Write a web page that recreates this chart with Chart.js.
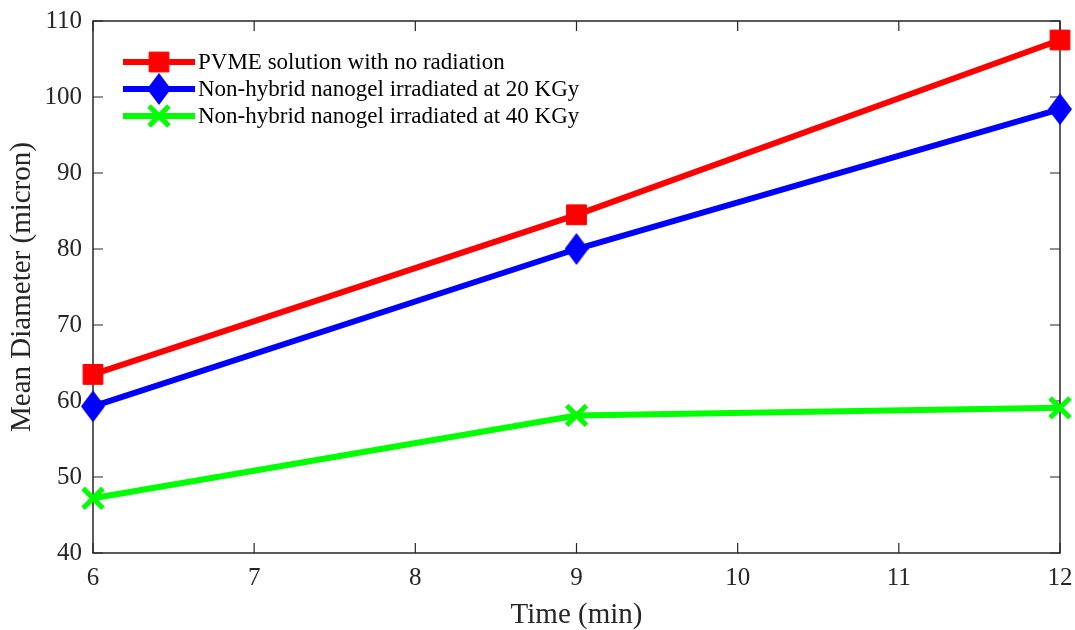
<!DOCTYPE html>
<html>
<head>
<meta charset="utf-8">
<script src="https://cdn.jsdelivr.net/npm/chart.js@4.4.1/dist/chart.umd.min.js"></script>
<style>
  html, body { margin: 0; padding: 0; background: #fff; }
  #plot { display: block; }
</style>
</head>
<body>
<canvas id="plot" width="1075" height="630"></canvas>
<script>
const times = [6, 9, 12];
const pvme = [63.5, 84.5, 107.5];
const gel20 = [59.3, 80.0, 98.4];
const gel40 = [47.2, 58.1, 59.1];
const seriesNames = [
  'PVME solution with no radiation',
  'Non-hybrid nanogel irradiated at 20 KGy',
  'Non-hybrid nanogel irradiated at 40 KGy'
];
const xTicks = [6, 7, 8, 9, 10, 11, 12];
const yTicks = [40, 50, 60, 70, 80, 90, 100, 110];

const AXIS = '#262626';
const FONT = '"Liberation Serif", "Times New Roman", serif';

// tall diamond marker, like the MATLAB 'd' symbol
function diamond(color, w, h) {
  const c = document.createElement('canvas');
  c.width = w; c.height = h;
  const g = c.getContext('2d');
  g.fillStyle = color;
  g.beginPath();
  g.moveTo(w / 2, 0);
  g.lineTo(w, h / 2);
  g.lineTo(w / 2, h);
  g.lineTo(0, h / 2);
  g.closePath();
  g.fill();
  return c;
}

function points(ys) {
  return times.map((t, i) => ({ x: t, y: ys[i] }));
}

const datasets = [
  {
    label: seriesNames[0], data: points(pvme),
    borderColor: '#ff0000', backgroundColor: '#ff0000',
    pointStyle: 'rect', pointRadius: 14, pointBorderWidth: 1
  },
  {
    label: seriesNames[1], data: points(gel20),
    borderColor: '#0000ff', backgroundColor: '#0000ff',
    pointStyle: diamond('#0000ff', 24, 32), pointRadius: 14, pointBorderWidth: 0
  },
  {
    label: seriesNames[2], data: points(gel40),
    borderColor: '#00ff00', backgroundColor: '#00ff00',
    pointStyle: 'crossRot', pointRadius: 14, pointBorderWidth: 5
  }
].map(d => Object.assign(d, {
  borderWidth: 6, tension: 0, clip: false,
  pointBorderColor: d.borderColor, pointBackgroundColor: d.backgroundColor,
  pointHoverRadius: d.pointRadius
}));

// box around the axes with inward ticks on all four sides
const frame = {
  id: 'frame',
  beforeDatasetsDraw(chart) {
    const { ctx, chartArea: a, scales: { x, y } } = chart;
    const len = 10;
    ctx.save();
    ctx.strokeStyle = AXIS;
    ctx.lineWidth = 1.5;
    ctx.strokeRect(a.left, a.top, a.right - a.left, a.bottom - a.top);
    ctx.lineWidth = 1.2;
    ctx.beginPath();
    xTicks.forEach(v => {
      const px = x.getPixelForValue(v);
      ctx.moveTo(px, a.bottom); ctx.lineTo(px, a.bottom - len);
      ctx.moveTo(px, a.top); ctx.lineTo(px, a.top + len);
    });
    yTicks.forEach(v => {
      const py = y.getPixelForValue(v);
      ctx.moveTo(a.left, py); ctx.lineTo(a.left + len, py);
      ctx.moveTo(a.right, py); ctx.lineTo(a.right - len, py);
    });
    ctx.stroke();
    ctx.restore();
  }
};

// legend with a line segment and marker for each series
const lineLegend = {
  id: 'lineLegend',
  afterDatasetsDraw(chart) {
    const { ctx, chartArea: a } = chart;
    const x0 = a.left + 30, x1 = a.left + 102, tx = a.left + 105;
    const top = a.top + 41, step = 27;
    ctx.save();
    chart.data.datasets.forEach((ds, i) => {
      const yy = top + i * step;
      ctx.strokeStyle = ds.borderColor;
      ctx.lineWidth = ds.borderWidth;
      ctx.beginPath();
      ctx.moveTo(x0, yy); ctx.lineTo(x1, yy);
      ctx.stroke();
      ctx.fillStyle = ds.backgroundColor;
      ctx.lineWidth = ds.pointBorderWidth;
      Chart.helpers.drawPoint(ctx, {
        pointStyle: ds.pointStyle, radius: ds.pointRadius,
        rotation: 0, borderWidth: ds.pointBorderWidth
      }, (x0 + x1) / 2, yy);
      ctx.fillStyle = '#000';
      ctx.font = '23px ' + FONT;
      ctx.textBaseline = 'middle';
      ctx.textAlign = 'left';
      ctx.fillText(ds.label, tx, yy + 1);
    });
    ctx.restore();
  }
};

// fixed axis sizes so the plot box lands where it should
function fixBox(size) {
  return s => {
    if (s.isHorizontal()) s.height = size; else s.width = size;
    s.paddingLeft = s.paddingRight = s.paddingTop = s.paddingBottom = 0;
  };
}

new Chart(document.getElementById('plot'), {
  type: 'line',
  data: { datasets },
  plugins: [frame, lineLegend],
  options: {
    responsive: false,
    animation: false,
    events: [],
    layout: { autoPadding: false, padding: { top: 21, right: 15, left: 0, bottom: 0 } },
    plugins: { legend: { display: false }, tooltip: { enabled: false } },
    scales: {
      x: {
        type: 'linear', min: 6, max: 12,
        afterFit: fixBox(77),
        afterBuildTicks: s => { s.ticks = xTicks.map(v => ({ value: v })); },
        grid: { display: false, drawTicks: false },
        border: { display: false },
        ticks: { color: AXIS, padding: 10, font: { family: FONT, size: 25 } },
        title: {
          display: true, text: 'Time (min)', color: AXIS,
          padding: { top: 0, bottom: 0 },
          font: { family: FONT, size: 29, lineHeight: 1 }
        }
      },
      y: {
        type: 'linear', min: 40, max: 110,
        afterFit: fixBox(93),
        afterBuildTicks: s => { s.ticks = yTicks.map(v => ({ value: v })); },
        grid: { display: false, drawTicks: false },
        border: { display: false },
        ticks: { color: AXIS, padding: 11, font: { family: FONT, size: 25 } },
        title: {
          display: true, text: 'Mean Diameter (micron)', color: AXIS,
          padding: { top: 8, bottom: 0 },
          font: { family: FONT, size: 29, lineHeight: 1 }
        }
      }
    }
  }
});
</script>
</body>
</html>
